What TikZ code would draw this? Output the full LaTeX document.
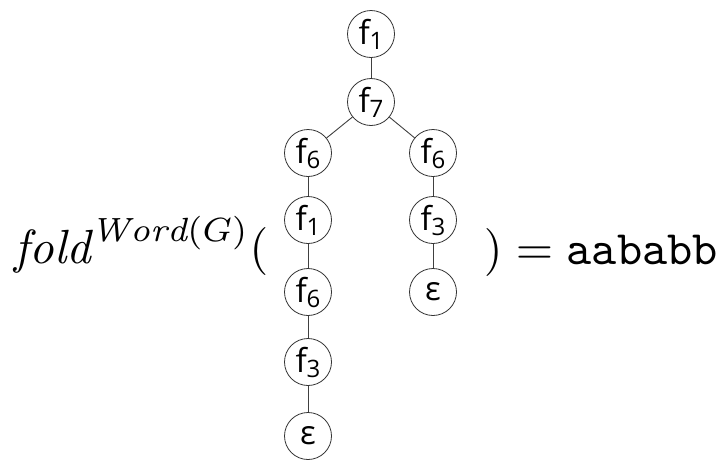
\documentclass[tikz,border=0pt]{standalone}
\usepackage{fontspec}
\newfontfamily\treefont{Open Sans}
\usetikzlibrary{positioning}
\newcommand{\fsub}[1]{f\raisebox{-5pt}{\fontsize{24}{26}\selectfont #1}}

\begin{document}
\begin{tikzpicture}[
  x=1pt, y=-1pt,
  vertex/.style={circle, draw=black!80, line width=0.8pt, minimum size=47pt, inner sep=0pt, font=\treefont\fontsize{33}{35}\selectfont},
  edge/.style={draw=black!75, line width=0.9pt},
  formula/.style={anchor=base west, inner sep=0pt, scale=4.8, font=\fontsize{10}{12}\selectfont}
]
\useasboundingbox (0,0) rectangle (721,461);

% the tree
\node[vertex] (top)  at (371,34)  {\fsub{1}};
\node[vertex] (mid)  at (371,102) {\fsub{7}};
\node[vertex] (l1)   at (308,153) {\fsub{6}};
\node[vertex] (r1)   at (433,153) {\fsub{6}};
\node[vertex] (l2)   at (308,220) {\fsub{1}};
\node[vertex] (r2)   at (433,220) {\fsub{3}};
\node[vertex] (l3)   at (308,292) {\fsub{6}};
\node[vertex] (r3)   at (433,292) {ε};
\node[vertex] (l4)   at (308,362) {\fsub{3}};
\node[vertex] (l5)   at (308,436) {ε};

\draw[edge] (top) -- (mid);
\draw[edge] (mid) -- (l1);
\draw[edge] (mid) -- (r1);
\draw[edge] (l1) -- (l2) (l2) -- (l3) (l3) -- (l4) (l4) -- (l5);
\draw[edge] (r1) -- (r2) (r2) -- (r3);

% the equation round it
\node[formula] (lhs) at (14,263) {$\mathit{fold}^{\mathit{Word}(G)}($};
\node[formula] (rhs) at (483,264) {$)=\texttt{aababb}$};

\end{tikzpicture}
\end{document}
